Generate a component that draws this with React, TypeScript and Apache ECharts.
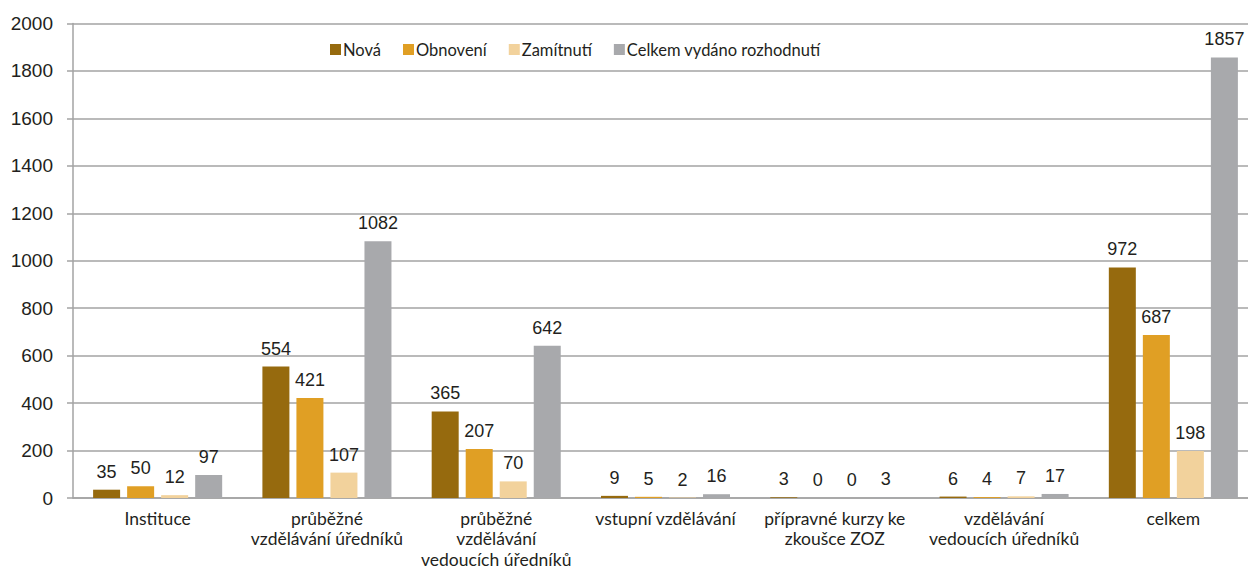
import React, { useEffect, useRef } from "react";
import * as echarts from "echarts";

const categories = [
  "Instituce",
  "průběžné\nvzdělávání úředníků",
  "průběžné\nvzdělávání\nvedoucích úředníků",
  "vstupní vzdělávání",
  "přípravné kurzy ke\nzkoušce ZOZ",
  "vzdělávání\nvedoucích úředníků",
  "celkem",
];
const nova = [35, 554, 365, 9, 3, 6, 972];
const obnoveni = [50, 421, 207, 5, 0, 4, 687];
const zamitnuti = [12, 107, 70, 2, 0, 7, 198];
const celkem = [97, 1082, 642, 16, 3, 17, 1857];
const seriesNames = ["Nová", "Obnovení", "Zamítnutí", "Celkem vydáno rozhodnutí"];
const colors = ["#966A0E", "#E09F24", "#F2D29C", "#A8A9AC"];

export default function App() {
  const ref = useRef<HTMLDivElement>(null);
  useEffect(() => {
    const chart = echarts.init(ref.current!, null, { renderer: "svg" });
    const datas = [nova, obnoveni, zamitnuti, celkem];
    chart.setOption({
      animation: false,
      legend: {
        left: 325,
        top: 36,
        itemWidth: 11,
        itemHeight: 11,
        itemGap: 22,
        icon: "rect",
        textStyle: { fontFamily: "Lato", fontSize: 16.5, color: "#231f20", padding: [0, 0, 0, -3] },
        data: seriesNames,
      },
      grid: {
        left: 73,
        right: -10,
        top: 23.5,
        bottom: 71,
        containLabel: false,
        outerBoundsMode: "none",
      },
      xAxis: {
        type: "category",
        data: categories,
        axisLine: { lineStyle: { color: "#a3a3a3", width: 1.5 } },
        axisTick: { show: false },
        axisLabel: {
          interval: 0,
          margin: 10,
          fontFamily: "Lato",
          fontSize: 17.5,
          lineHeight: 20.5,
          color: "#231f20",
        },
      },
      yAxis: {
        type: "value",
        min: 0,
        max: 2000,
        interval: 200,
        axisLine: { show: true, lineStyle: { color: "#a3a3a3", width: 1.5 } },
        axisTick: { show: true, length: 6, lineStyle: { color: "#a3a3a3", width: 1.5 } },
        splitLine: { lineStyle: { color: "#a3a3a3", width: 1.5 } },
        axisLabel: {
          margin: 20,
          fontFamily: "Liberation Sans",
          fontSize: 19,
          color: "#231f20",
          formatter: (v: number) => String(v),
        },
      },
      series: datas.map((d, i) => ({
        name: seriesNames[i],
        type: "bar",
        data: d,
        barWidth: 27,
        barGap: "26%",
        itemStyle: { color: colors[i] },
        label: {
          show: true,
          position: "top",
          distance: 9,
          fontFamily: "Liberation Sans",
          fontSize: 18,
          color: "#231f20",
        },
      })),
    });
    return () => chart.dispose();
  }, []);
  return (
    <div
      ref={ref}
      style={{ position: "fixed", left: 0, top: 0, width: 1248, height: 569, background: "#fff" }}
    />
  );
}
